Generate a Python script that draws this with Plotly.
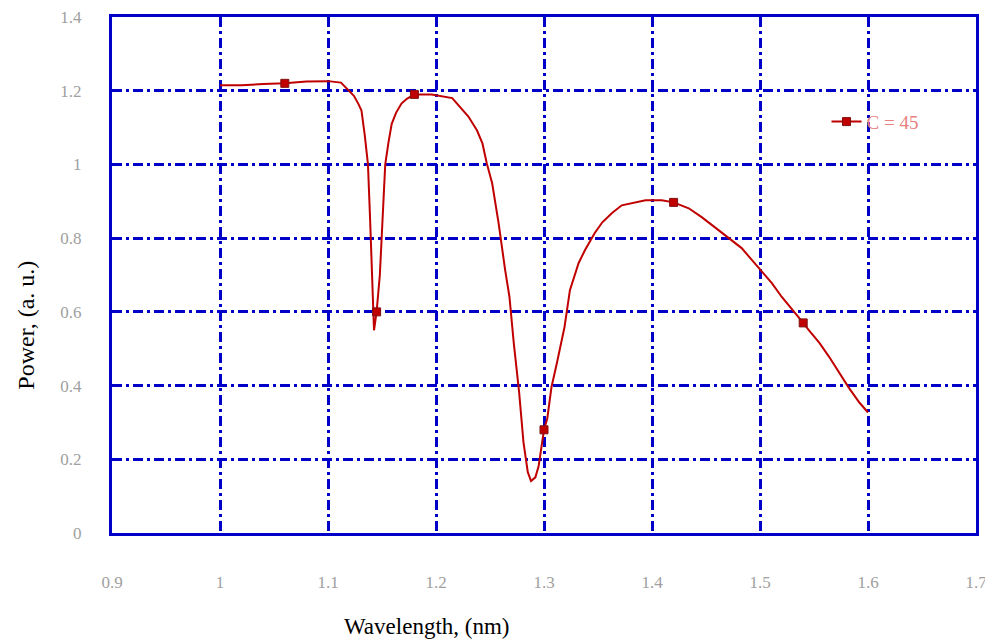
import plotly.graph_objects as go

wavelength = [1.00,1.02,1.04,1.06,1.08,1.10,1.112,1.118,1.124,1.128,1.131,1.134,1.137,1.139,1.141,1.1426,
              1.145,1.148,1.150,1.153,1.156,1.159,1.163,1.168,1.173,1.180,1.196,1.215,1.230,1.238,1.243,
              1.247,1.252,1.258,1.264,1.268,1.272,1.277,1.281,1.285,1.288,1.292,1.295,1.298,1.300,1.303,
              1.307,1.312,1.319,1.324,1.332,1.338,1.347,1.354,1.363,1.372,1.381,1.394,1.409,1.420,1.434,
              1.446,1.458,1.471,1.483,1.495,1.511,1.520,1.532,1.540,1.545,1.555,1.564,1.573,1.582,1.592,1.600]
power = [1.215,1.215,1.218,1.22,1.225,1.226,1.222,1.205,1.186,1.165,1.146,1.08,1.0,0.85,0.70,0.55,
         0.60,0.70,0.82,1.0,1.06,1.11,1.14,1.165,1.178,1.19,1.19,1.18,1.13,1.092,1.057,
         1.003,0.949,0.84,0.714,0.641,0.516,0.381,0.246,0.165,0.141,0.151,0.181,0.235,0.28,0.31,
         0.397,0.462,0.559,0.659,0.732,0.768,0.814,0.843,0.868,0.889,0.895,0.903,0.903,0.897,0.881,
         0.857,0.83,0.80,0.773,0.732,0.678,0.641,0.60,0.57,0.551,0.516,0.478,0.435,0.395,0.354,0.327]
marker_idx = [3, 16, 25, 44, 59, 69]
series_name = "C = 45"

x_ticks = [0.9, 1.0, 1.1, 1.2, 1.3, 1.4, 1.5, 1.6, 1.7]
y_ticks = [0, 0.2, 0.4, 0.6, 0.8, 1.0, 1.2, 1.4]

LINE = "#C00000"
GRID = "#0000C8"
SERIF = "Times New Roman, Liberation Serif, serif"

fig = go.Figure()
fig.add_trace(go.Scatter(x=wavelength, y=power, mode="lines",
                         line=dict(color=LINE, width=2), showlegend=False))
fig.add_trace(go.Scatter(x=[wavelength[i] for i in marker_idx], y=[power[i] for i in marker_idx],
                         mode="markers", showlegend=False,
                         marker=dict(symbol="square", size=8, color=LINE,
                                     line=dict(color="#801010", width=1))))
fig.add_trace(go.Scatter(x=[None], y=[None], mode="lines+markers", name=series_name,
                         line=dict(color=LINE, width=2),
                         marker=dict(symbol="square", size=8, color=LINE,
                                     line=dict(color="#801010", width=1))))

tickfont = dict(family=SERIF, size=17, color="#A0A0A0")
axis_common = dict(showgrid=True, gridcolor=GRID, gridwidth=2.5, griddash="10px,4px,3px,4px",
                   showline=True, linecolor=GRID, linewidth=3, mirror=True, zeroline=False,
                   ticks="", tickfont=tickfont, automargin=False, ticklabeloverflow="allow")
fig.update_xaxes(range=[0.9, 1.7], tickvals=x_ticks, ticktext=[f"{v:g}" for v in x_ticks],
                 ticklabelstandoff=32, **axis_common)
fig.update_yaxes(range=[0, 1.4], tickvals=y_ticks, ticktext=[f"{v:g}" for v in y_ticks],
                 ticklabelstandoff=24, **axis_common)

fig.update_layout(
    width=993, height=644,
    margin=dict(l=104, r=25, t=9, b=119),
    paper_bgcolor="white", plot_bgcolor="white",
    legend=dict(x=0.827, y=0.797, xanchor="left", yanchor="middle", bgcolor="rgba(0,0,0,0)",
                font=dict(family=SERIF, size=19, color="#E88080")),
    annotations=[
        dict(text="Wavelength, (nm)", xref="paper", yref="paper", x=0.364, y=-0.181,
             xanchor="center", yanchor="middle", showarrow=False,
             font=dict(family=SERIF, size=23, color="black")),
        dict(text="Power, (a. u.)", xref="paper", yref="paper", x=-0.1, y=0.403,
             xanchor="center", yanchor="middle", textangle=-90, showarrow=False,
             font=dict(family=SERIF, size=24, color="black")),
    ],
)

fig.write_html("out.html")
